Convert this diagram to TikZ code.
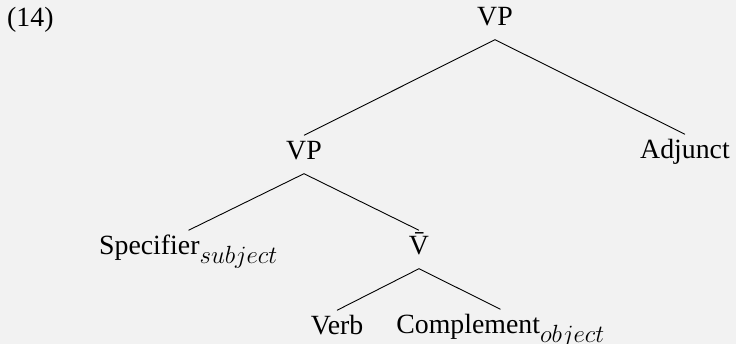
\documentclass[tikz,border=0pt]{standalone}
\usepackage{fontspec}
\setmainfont{Liberation Serif}[Ligatures=TeX]
\DeclareMathSizes{27.8}{27.8}{23.2}{18}
\definecolor{bgc}{HTML}{F2F2F2}
\tikzset{
  lbl/.style={anchor=base, inner sep=0pt, text height=24.5pt, text depth=13.5pt,
              font=\fontsize{27.8}{33}\selectfont},
  edge/.style={draw=black, line width=0.9pt}
}
\begin{document}
\begin{tikzpicture}[x=1pt, y=-1pt]
\fill[bgc] (0,0) rectangle (736,344);
\useasboundingbox (0,0) rectangle (736,344);
\node[lbl, anchor=base west] (num) at (7,27) {(14)};
\node[lbl] (vp1) at (495,26) {VP};
\node[lbl] (vp2) at (304,160) {VP};
\node[lbl] (adj) at (685,159) {Adjunct};
\node[lbl] (spec) at (188.5,255) {Specifier$_{subject}$};
\node[lbl] (vbar) at (419,255) {\=V};
\node[lbl] (verb) at (337,335) {Verb};
\node[lbl] (comp) at (500.5,334) {Complement$_{object}$};
\draw[edge] (vp2.north) -- (vp1.south) -- (adj.north);
\draw[edge] (spec.north) -- (vp2.south) -- (vbar.north);
\draw[edge] (verb.north) -- (vbar.south) -- (comp.north);
\end{tikzpicture}
\end{document}
